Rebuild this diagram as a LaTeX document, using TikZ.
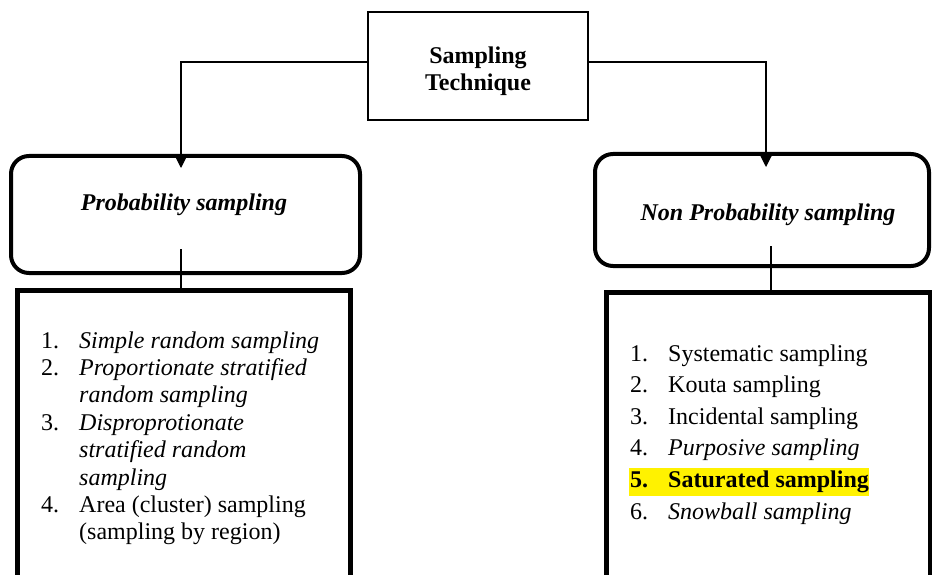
\documentclass[tikz,border=0pt]{standalone}
\usepackage{fontspec}
\setmainfont{Liberation Serif}
\usetikzlibrary{arrows.meta}
\begin{document}
\begin{tikzpicture}[x=1pt,y=-1pt,
  thinline/.style={line width=1.2pt},
  conn/.style={thinline,-{Triangle[length=13pt,width=13pt]}},
  topbox/.style={draw,line width=1.6pt,inner sep=0pt,minimum width=220pt,minimum height=108pt},
  toplabel/.style={inner sep=0pt,align=center,font=\fontsize{24}{27}\selectfont\bfseries},
  rbox/.style={draw,line width=4pt,rounded corners=18pt,inner sep=0pt},
  lbox/.style={draw,line width=5pt,inner sep=0pt},
  boxlabel/.style={inner sep=0pt,font=\fontsize{24}{27}\selectfont\bfseries\itshape},
  listtext/.style={anchor=base west,inner sep=0pt}]
\useasboundingbox (0,0) rectangle (932,575);
\clip (0,0) rectangle (932,575);

% top node
\node[topbox] (top) at (478,66) {};
\node[toplabel] (topl) at (478,71) {Sampling\\Technique};

% second level
\node[rbox,minimum width=349pt,minimum height=117pt] (prob) at (185.5,214.5) {};
\node[boxlabel] (probl) at (184,205) {Probability sampling};
\node[rbox,minimum width=334pt,minimum height=112pt] (nonprob) at (762,210) {};
\node[boxlabel] (nonprobl) at (768,215) {Non Probability sampling};

% lists
\node[lbox,minimum width=333pt,minimum height=310pt] (lowl) at (183.5,445) {};
\node[lbox,minimum width=324pt,minimum height=308pt] (lowr) at (768,446) {};

% connectors
\coordinate (lh) at (181,62);
\coordinate (la) at (181,168);
\coordinate (rh) at (766,62);
\coordinate (ra) at (766,167);
\draw[conn] (top.west |- lh) -| (la);
\draw[conn] (top.east |- rh) -| (ra);

\coordinate (ld) at (181,249);
\coordinate (rd) at (771,246);
\draw[thinline] (ld) -- (ld |- lowl.north);
\draw[thinline] (rd) -- (rd |- lowr.north);

% left list
\node[listtext,font=\fontsize{24}{27.4}\selectfont] (llist) at (41,348) {%
\begin{tabular}[t]{@{}p{38pt}@{}l@{}}
1. & \textit{Simple random sampling}\\
2. & \textit{Proportionate stratified}\\
   & \textit{random sampling}\\
3. & \textit{Disproprotionate}\\
   & \textit{stratified random}\\
   & \textit{sampling}\\
4. & Area (cluster) sampling\\
   & (sampling by region)
\end{tabular}};

% right list
\fill[yellow] (629,468) rectangle (869,496);
\node[listtext,font=\fontsize{24}{31.6}\selectfont] (rlist) at (630,361) {%
\begin{tabular}[t]{@{}p{38pt}@{}l@{}}
1. & Systematic sampling\\
2. & Kouta sampling\\
3. & Incidental sampling\\
4. & \textit{Purposive sampling}\\
\textbf{5.} & \textbf{Saturated sampling}\\
6. & \textit{Snowball sampling}
\end{tabular}};
\end{tikzpicture}
\end{document}
